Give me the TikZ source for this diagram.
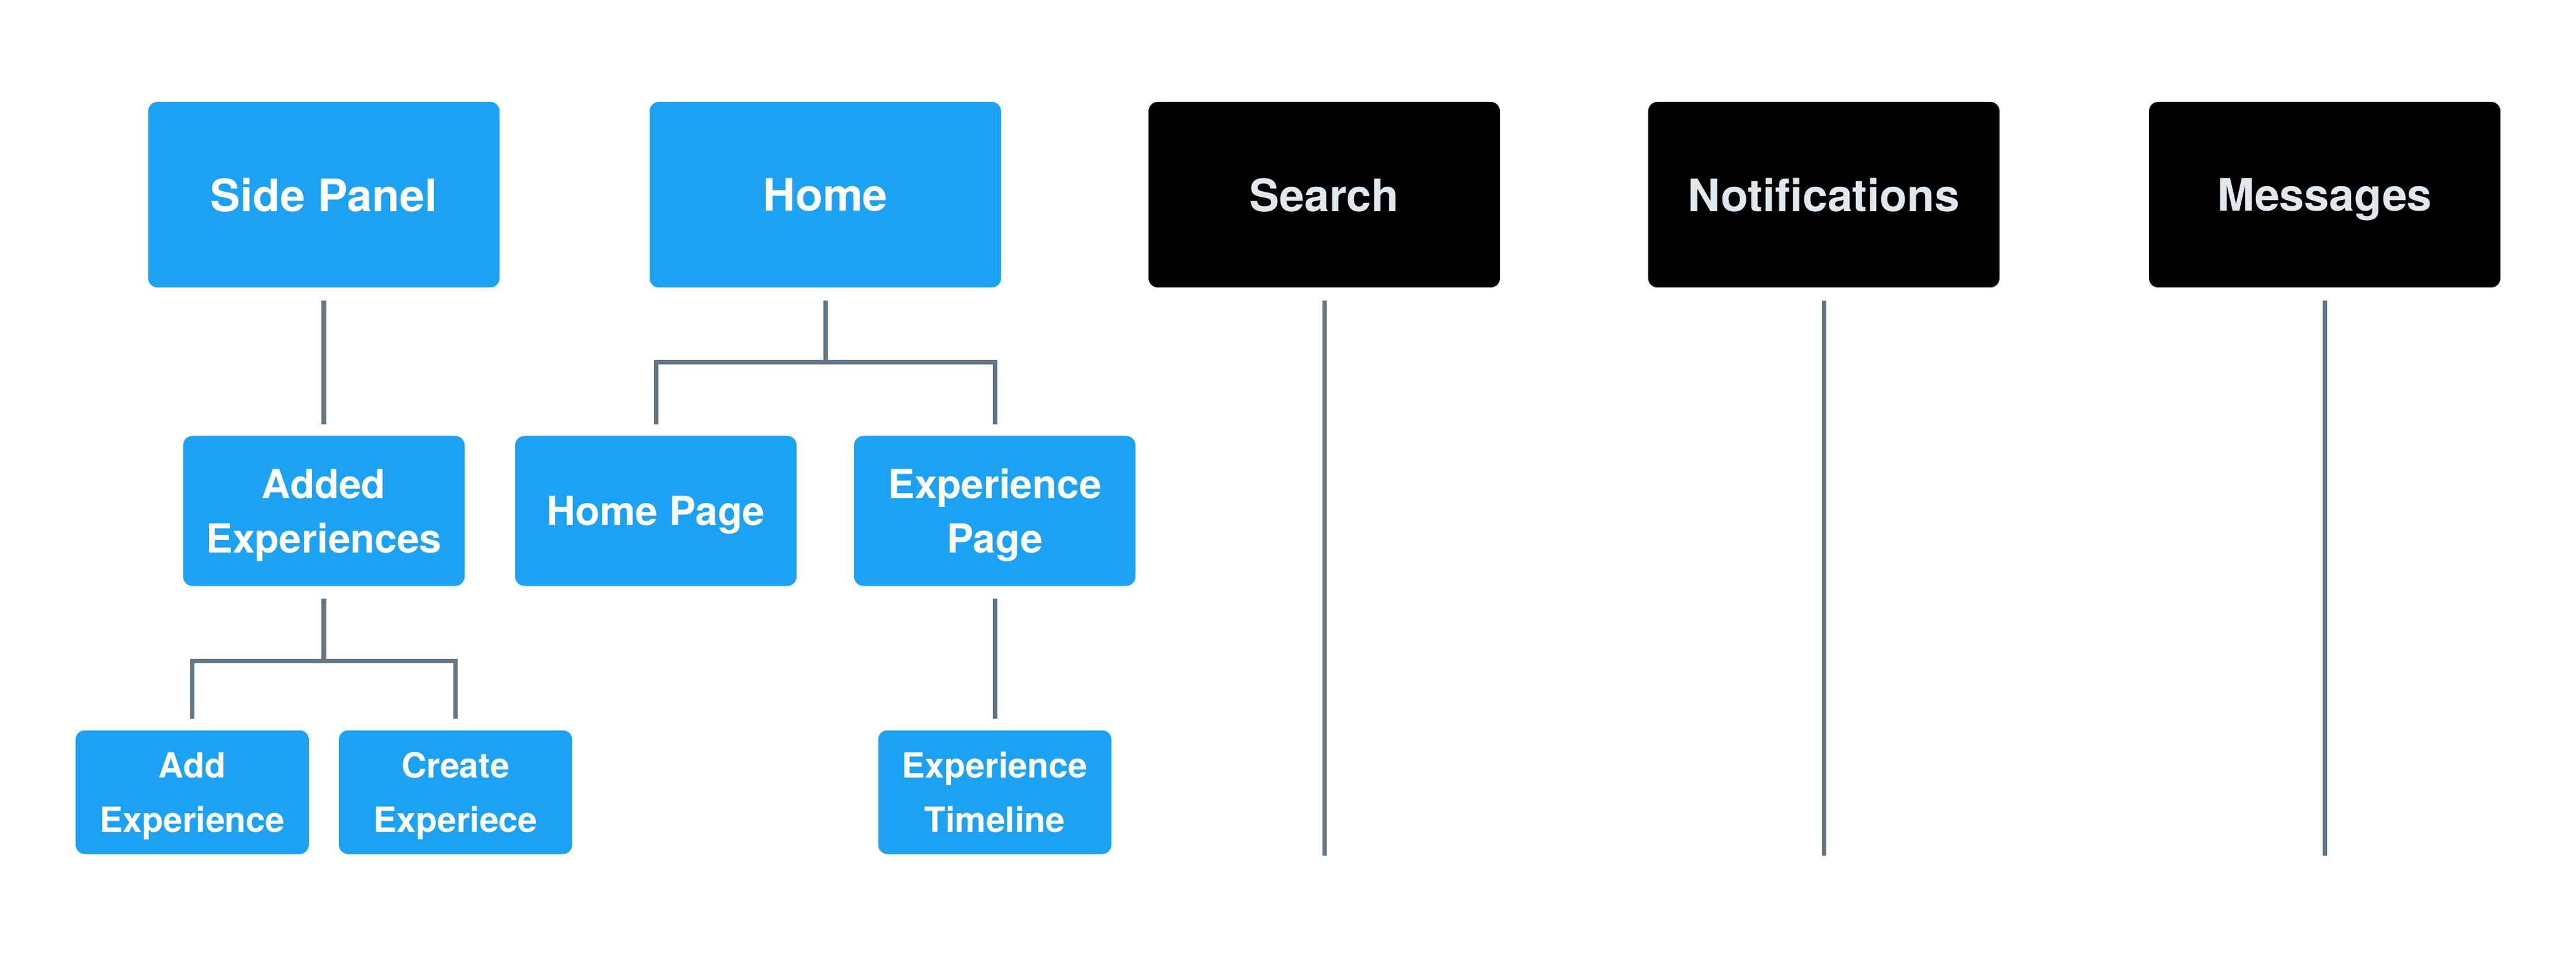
\documentclass[tikz,border=0pt]{standalone}
\usepackage{fontspec}
\usepackage{tikz}
\newfontfamily\boxfont{TeX Gyre Heros}
\definecolor{tweetblue}{HTML}{1DA1F2}
\definecolor{linkgray}{HTML}{657786}
\definecolor{paleink}{HTML}{E1E8ED}
\tikzset{
  box/.style={rounded corners=1.5mm, inner sep=0pt, align=center, text=white, text depth=0pt},
  topbox/.style={box, fill=tweetblue, minimum width=5.62cm, minimum height=2.97cm,
    font=\boxfont\bfseries\fontsize{20.4}{24.7}\selectfont},
  darkbox/.style={topbox, fill=black, text=paleink},
  midbox/.style={box, fill=tweetblue, minimum width=4.5cm, minimum height=2.4cm,
    font=\boxfont\bfseries\fontsize{18.2}{24.7}\selectfont},
  lowbox/.style={box, fill=tweetblue, minimum width=3.73cm, minimum height=1.98cm,
    font=\boxfont\bfseries\fontsize{15.8}{24.7}\selectfont},
  link/.style={draw=linkgray, line width=2pt},
}
\begin{document}
\begin{tikzpicture}[
    level 1/.style={level distance=5.06cm, sibling distance=5.42cm},
    level 2/.style={level distance=4.5cm, sibling distance=4.21cm},
    edge from parent/.style={link},
    edge from parent path={([yshift=-2mm]\tikzparentnode.south) -- ++(0,-9.9mm)
      -| ([yshift=1.8mm]\tikzchildnode.north)}
  ]
    \useasboundingbox (0,0) rectangle (41.2,-15.28);
    \node[topbox] (side) at (5.18,-3.115) {Side Panel}
        child {
          node[midbox] (added) {Added\\Experiences}
          child {
            node[lowbox] (addexp) {Add\\Experience}
          }
          child {
            node[lowbox] (createexp) {Create\\Experiece}
          }
        }
    ;
    \node[topbox] (home) at (13.2,-3.115) {Home}
        child {
          node[midbox] (homepage) {Home Page}
        }
        child {
          node[midbox] (exppage) {Experience\\Page}
          child {
            node[lowbox] (timeline) {Experience\\Timeline}
          }
        }
    ;
    \node[darkbox] (search) at (21.18,-3.115) {Search};
    \node[darkbox] (notif) at (29.17,-3.115) {Notifications};
    \node[darkbox] (messages) at (37.18,-3.115) {Messages};
    \coordinate (base) at (0,-13.69);
    \foreach \n in {search, notif, messages}
      \draw[link] ([yshift=-2mm]\n.south) -- (\n.south |- base);
  \end{tikzpicture}
\end{document}
